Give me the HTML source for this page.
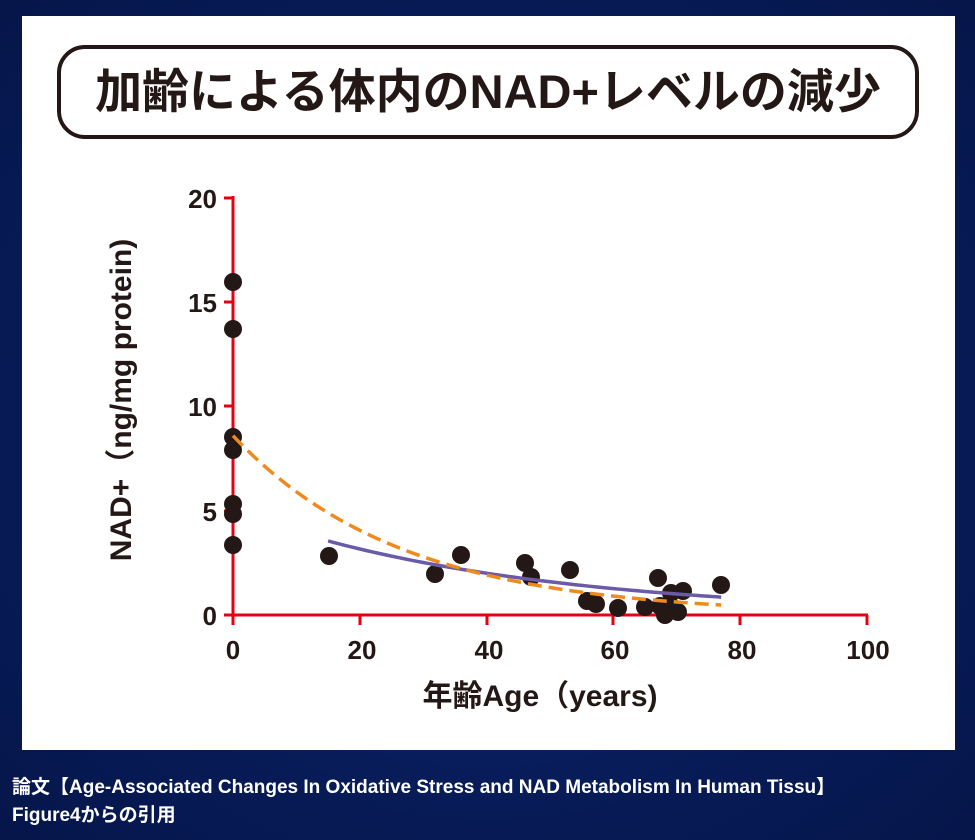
<!DOCTYPE html>
<html><head><meta charset="utf-8"><style>
body{margin:0;width:975px;height:840px;background:radial-gradient(ellipse at 50% 50%,#0c2a7a,#071a55 70%,#06164a);overflow:hidden;font-family:"Liberation Sans","Noto Sans CJK JP",sans-serif;}
.panel{position:absolute;left:22px;top:16px;width:933px;height:734px;background:#fff;}
.title{position:absolute;left:57px;top:45px;width:862px;height:94px;border:4px solid #231815;border-radius:28px;box-sizing:border-box;text-align:center;font-size:47px;font-weight:bold;line-height:86px;color:#231815;letter-spacing:0px;}
.cap{position:absolute;left:12px;color:#fff;font-weight:bold;font-size:19px;white-space:nowrap;}
</style></head><body>
<div class="panel"></div>
<div class="title">加齢による体内のNAD+レベルの減少</div>
<svg id="s" width="975" height="840" style="position:absolute;left:0;top:0" font-family="Liberation Sans, Noto Sans CJK JP, sans-serif">
<g stroke="#e60012" stroke-width="3" fill="none">
<line x1="233" y1="196" x2="233" y2="616"/>
<line x1="232" y1="615" x2="868" y2="615"/>
<line x1="224" y1="198" x2="233" y2="198"/>
<line x1="224" y1="302" x2="233" y2="302"/>
<line x1="224" y1="406" x2="233" y2="406"/>
<line x1="224" y1="511" x2="233" y2="511"/>
<line x1="224" y1="615" x2="233" y2="615"/>
<line x1="233" y1="615" x2="233" y2="625"/>
<line x1="360" y1="615" x2="360" y2="625"/>
<line x1="487" y1="615" x2="487" y2="625"/>
<line x1="613" y1="615" x2="613" y2="625"/>
<line x1="740" y1="615" x2="740" y2="625"/>
<line x1="867" y1="615" x2="867" y2="625"/>
</g>
<g font-size="26" font-weight="bold" fill="#231815" text-anchor="end">
<text x="217" y="208">20</text><text x="217" y="312">15</text><text x="217" y="416">10</text><text x="217" y="521">5</text><text x="217" y="625">0</text>
</g>
<g font-size="26" font-weight="bold" fill="#231815" text-anchor="middle">
<text x="233" y="659">0</text><text x="362" y="659">20</text><text x="489" y="659">40</text><text x="615" y="659">60</text><text x="742" y="659">80</text><text x="868" y="659">100</text>
<text x="540" y="706" font-size="30">年齢Age（years)</text>
<text transform="translate(131,400) rotate(-90)" font-size="30">NAD+（ng/mg protein)</text>
</g>
<g id="dots" fill="#231815"></g>
<path id="pu" stroke="#6a5aa8" stroke-width="3.5" fill="none"/>
<path id="or" stroke="#ee8a1e" stroke-width="3.5" fill="none" stroke-dasharray="14 7"/>
</svg>
<div class="cap" style="top:772px">論文【Age-Associated Changes In Oxidative Stress and NAD Metabolism In Human Tissu】</div>
<div class="cap" style="top:800px">Figure4からの引用</div>
<script>
var P=[[233,282],[233,329],[233,437],[233,450],[233,504],[233,514],[233,545],[329,556],[435,574],[461,555],[525,563],[531,577],[570,570],[587,601],[596,604],[618,608],[645,607],[658,578],[660,606],[665,615],[671,593],[683,591],[678,612],[721,585],[673,608]];
var g=document.getElementById('dots'),h='';
P.forEach(function(p){h+='<circle cx="'+p[0]+'" cy="'+p[1]+'" r="9"/>';});
g.innerHTML=h;
function X(a){return 233+a*6.34;}function Y(v){return 615-v*20.85;}
var d='';for(var a=0;a<=77;a+=1){d+=(a?'L':'M')+X(a)+','+Y(8.6*Math.exp(-0.0375*a));}
document.getElementById('or').setAttribute('d',d);
d='';for(var a=15;a<=77;a+=1){d+=(a>15?'L':'M')+X(a)+','+Y(3.55*Math.exp(-0.0229*(a-15)));}
document.getElementById('pu').setAttribute('d',d);
</script>
</body></html>
